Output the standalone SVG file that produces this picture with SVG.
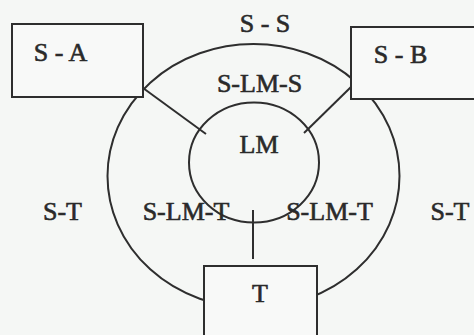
<svg xmlns="http://www.w3.org/2000/svg" width="474" height="335" viewBox="0 0 474 335">
<style>
.bg{fill:#f5f7f5}
.shape{fill:none;stroke:#2e2e2e;stroke-width:2}
.box{fill:#f8f9f8;stroke:#2e2e2e;stroke-width:2}
.conn{stroke:#2e2e2e;stroke-width:2;fill:none}
text{font-family:"Liberation Serif","Times New Roman",serif;font-size:26px;fill:#2a2a2a;stroke:#2a2a2a;stroke-width:0.6;text-anchor:middle}
</style>
<rect class="bg" x="0" y="0" width="474" height="335"/>
<g id="outer-ring">
<ellipse class="shape" cx="253.5" cy="176" rx="146" ry="132"/>
</g>
<g id="node-LM">
<ellipse class="shape" cx="254" cy="162.5" rx="65" ry="60"/>
<text x="259" y="153">LM</text>
</g>
<g id="connectors">
<line class="conn" x1="143" y1="88" x2="206" y2="134"/>
<line class="conn" x1="351" y1="87" x2="304" y2="133"/>
<line class="conn" x1="253" y1="210" x2="253" y2="259"/>
</g>
<g id="node-SA">
<rect class="box" x="12" y="24" width="131" height="73"/>
<text x="60.5" y="61">S - A</text>
</g>
<g id="node-SB">
<rect class="box" x="351" y="27" width="140" height="72"/>
<text x="400.5" y="63">S - B</text>
</g>
<g id="node-T">
<rect class="box" x="204" y="266" width="113" height="90"/>
<text x="260" y="302">T</text>
</g>
<g id="labels">
<text x="265" y="32">S - S</text>
<text x="259.5" y="92">S-LM-S</text>
<text x="62.5" y="220">S-T</text>
<text x="186" y="220">S-LM-T</text>
<text x="329.5" y="220">S-LM-T</text>
<text x="450" y="220">S-T</text>
</g>
</svg>
